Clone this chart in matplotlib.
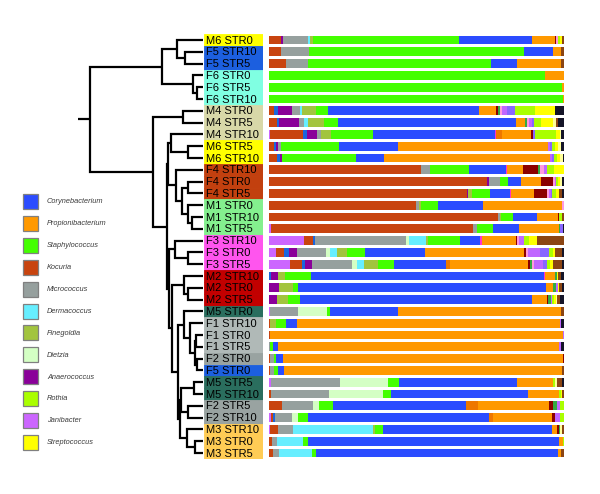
import matplotlib
matplotlib.use("Agg")
import matplotlib.pyplot as plt
from matplotlib.patches import Rectangle
import numpy as np

plt.rcParams['font.family'] = ['Liberation Sans', 'DejaVu Sans']

# ---------------- data ----------------
samples = ["M6 STR0", "F5 STR10", "F5 STR5", "F6 STR0", "F6 STR5", "F6 STR10",
           "M4 STR0", "M4 STR5", "M4 STR10", "M6 STR5", "M6 STR10",
           "F4 STR10", "F4 STR0", "F4 STR5", "M1 STR0", "M1 STR10", "M1 STR5",
           "F3 STR10", "F3 STR0", "F3 STR5", "M2 STR10", "M2 STR0", "M2 STR5",
           "M5 STR0", "F1 STR10", "F1 STR0", "F1 STR5", "F2 STR0", "F5 STR0",
           "M5 STR5", "M5 STR10", "F2 STR5", "F2 STR10",
           "M3 STR10", "M3 STR0", "M3 STR5"]

subject_colors = {"M6": "#ffff00", "F5": "#1c5fdf", "F6": "#80ffe2", "M4": "#d8d8a8",
                  "F4": "#c2400f", "M1": "#84f08e", "F3": "#ff55ee", "M2": "#c20000",
                  "M5": "#2a6e5e", "F1": "#b0b9b7", "F2": "#99a3a1", "M3": "#ffcc55"}

# relative abundances (%) per genus, one value per sample (in row order)
janibacter = [0,0,0,0,0,0,0,0,0.3,0,0,0,0,0,0,0,0.7,12.0,2.4,7.1,0,0,0,0.3,0,0,0,0,0,0.7,0,0,0.7,0.3,0,0]
kocuria = [4.1,4.1,5.8,0,0,0,1.8,2.6,11.3,1.8,2.8,51.5,74.0,67.0,49.8,77.5,68.4,3.0,2.8,4.0,0,0,0,0,0.3,0.3,0,0.3,0.3,0,0.7,4.3,0.6,2.8,0.9,1.2]
other_blue = [0,0,0,0,0,0,1.4,0.9,1.1,0.6,0.9,0,0,0,0,0,0,0.5,1.7,1.1,0.7,0,0,0,0,0,0,0,0,0,0,0,0.8,0,0,0]
anaerococcus = [0.6,0,0,0,0,0,4.5,6.8,3.6,0.8,0.6,0,0.6,0.6,0,0,0,0,2.7,2.3,2.3,3.5,2.6,0,0,0,0,0,0,0,0,0,0,0,0,0]
micrococcus = [8.7,9.3,7.3,0,0,0,2.8,1.7,1.4,0.8,0,3.1,3.7,0,1.1,0.8,1.4,30.8,9.9,13.6,0,0,0,9.6,0,0,0.3,1.4,1.4,23.4,19.7,10.7,5.6,5.1,1.7,2.1]
dietzia = [0,0,0,0,0,0,0,0,0,0,0,0,0,0,0,0,0,1.0,1.1,1.7,0,0,0,9.7,0,0,0,0,0,16.4,18.4,2.0,2.0,0,0,0]
dermacoccus = [0.6,0,0,0,0,0,0.6,1.4,0,0,0,0,0,0,0,0,0,6.0,2.6,2.3,0,0,0,0,0,0,0,0,0,0,0,0,0,27.1,9.0,11.4]
finegoldia = [0.9,0,0,0,0,0,4.7,5.1,3.2,0,0,0,0,1.1,0.5,0.3,0,0.6,3.3,4.9,2.5,4.7,3.7,0,2.0,0,0,0,0,0,0,0,0,0.6,0,0]
staphylococcus = [49.6,73.2,62.1,93.6,99.2,99.8,4.1,4.9,14.4,19.8,25.2,13.2,2.8,6.2,5.8,4.0,5.4,11.0,6.0,5.3,8.8,1.5,4.2,1.1,3.4,0,1.0,0.7,1.5,3.6,2.5,4.7,3.6,2.8,1.7,1.1]
corynebacterium = [25.0,9.6,8.7,0,0,0,51.3,60.3,41.2,19.9,9.6,12.4,4.3,6.8,15.3,8.1,8.8,6.6,20.6,17.8,78.9,84.2,78.5,23.0,3.7,0,1.6,2.3,1.9,40.2,46.5,45.2,61.2,57.1,85.1,81.9]
other_pink = [0,0,0,0,0,0,0,0,0.4,0,0,0.6,0,0.4,0,0,0,0.6,0,0,0.3,0,0.3,0,0,0,0,0,0,0,0,0,0,0,0,0]
other_orange = [0,0,0,0,0,0,0,0,1.9,0,0,0,0,0,0,0,0,0,0,1.4,0,0,0,0,0,0,0,0,0,0,0,4.0,1.5,0,0,0]
propionibacterium = [7.5,2.7,15.1,6.4,0.8,0.2,5.6,3.1,9.8,51.0,55.9,5.2,6.9,7.7,26.7,7.1,13.6,11.6,33.7,26.3,3.4,2.5,4.9,55.3,89.2,99.5,95.5,94.9,94.1,12.1,10.4,24.1,20.1,1.7,1.4,1.2]
other_darkred = [0.6,0,0,0,0,0,0.6,0,0.7,0,0,5.3,3.9,4.5,0,0.5,0,0.5,0.6,0.6,0,0,0.4,0,0,0,0,0.4,0,0,0,1.4,0.8,0.8,0,0]
other_green = [0,0,0,0,0,0,0.8,0.8,0,0,0,0.6,0,0,0,0,0.5,0,0,0.6,0.6,0.9,0.9,0,0,0,0,0,0,0,0,1.3,0,0.5,0,0]
other_rose = [0.6,0,0,0,0,0,0.6,0.7,0,0,0,1.4,0.6,0.6,0.8,0,0,0.6,0.6,0.9,0,0,0,0,0,0,0,0,0,0,0,0,0,0,0,0]
other_purple = [0,0,0,0,0,0,1.7,0.8,0,0.6,0.8,0.9,0.6,0.6,0,0,0,1.6,4.0,3.1,0,0.5,0.6,0,0.5,0.2,0.6,0,0,0,0,0.9,1.7,0,0,0]
other_violet = [0,0,0,0,0,0,2.8,0.8,0.8,0.6,0.7,0,0,0.6,0,0,0.7,0,3.2,1.1,0,0,0,0,0,0,0,0,0,0,0,0,0,0,0,0]
rothia = [0.8,0,0,0,0,0,6.8,2.3,7.1,1.1,1.1,2.3,0.6,1.1,0,0.9,0,1.9,1.4,1.2,0,0,0.5,0,0,0,0,0,0,0.8,0.7,1.4,1.4,0,0.2,0]
streptococcus = [0.5,0,0,0,0,0,6.7,4.1,1.3,1.1,1.1,3.5,0.8,1.1,0,0,0,2.5,0.6,1.1,0.6,0.6,0.6,0,0,0,0,0,0,0,0.4,0,0,0,0,0]
other_paleyellow = [0,0,0,0,0,0,0,1.1,0.5,0.8,0.8,0,0.5,0,0,0,0,0,0,0,0,0,0.5,0,0,0,0,0,0,0.6,0,0,0,0.6,0,0]
other_brown = [0.7,1.1,1.0,0,0,0,0,0.8,0,0,0,0,0,1.1,0,0.8,0,9.2,2.3,2.8,0.8,0.9,1.1,1.0,0,0,0,0,0.8,1.5,0.7,0,0,0.6,0,1.0]
other_black = [0,0,0,0,0,0,3.1,1.9,0.9,1.1,0.4,0,0.7,0.6,0,0,0.5,0,0.8,0.8,1.1,0.7,1.2,0,0.9,0,1.0,0,0,0.8,0,0,0,0,0,0]

series = [
    (janibacter, "#cc66ff"), (kocuria, "#c8440f"), (other_blue, "#1a66dd"),
    (anaerococcus, "#8a0099"), (micrococcus, "#96a09e"), (dietzia, "#d4ffc4"),
    (dermacoccus, "#66eeff"), (finegoldia, "#a2c43e"), (staphylococcus, "#44ff00"),
    (corynebacterium, "#2b4cff"), (other_pink, "#ff33cc"), (other_orange, "#ee7700"),
    (propionibacterium, "#ff9900"), (other_darkred, "#8b0000"), (other_green, "#33aa44"),
    (other_rose, "#ff99dd"), (other_purple, "#c066ff"), (other_violet, "#8866ff"),
    (rothia, "#aaff00"), (streptococcus, "#ffff00"), (other_paleyellow, "#ffff99"),
    (other_brown, "#8b4513"), (other_black, "#141428"),
]

legend_names = ["Corynebacterium", "Propionibacterium", "Staphylococcus", "Kocuria",
                "Micrococcus", "Dermacoccus", "Finegoldia", "Dietzia", "Anaerococcus",
                "Rothia", "Janibacter", "Streptococcus"]
legend_colors = ["#2b4cff", "#ff9900", "#44ff00", "#c8440f", "#96a09e", "#66eeff",
                 "#a2c43e", "#d4ffc4", "#8a0099", "#aaff00", "#cc66ff", "#ffff00"]

# dendrogram: (height, left, right); leaves are row indices
tight = (0.08, (0.075, 25, 26), (0.063, 27, 28))
tree = (1.13,
        (0.407, (0.257, 0, (0.18, 1, 2)), (0.097, 3, (0.06, 4, 5))),
        (0.497,
         (0.197, 6, 7),
         (0.363,
          (0.347,
           (0.32, 8, (0.153, 9, 10)),
           (0.273, 11, (0.213, (0.153, 12, 13), (0.147, 14, (0.113, 15, 16))))),
          (0.34,
           (0.28, 17, (0.153, 18, 19)),
           (0.313,
            (0.187, 20, (0.147, 21, 22)),
            (0.25,
             (0.187, 23, (0.13, 24, tight)),
             (0.23,
              (0.22, (0.087, 29, 30), (0.147, 31, 32)),
              (0.163, 33, (0.08, 34, 35)))))))))

# ---------------- layout ----------------
W, H = 600, 494
fig = plt.figure(figsize=(W / 100, H / 100), dpi=100)
top_px, bot_px = 34.1, 458.9
bottom = 1 - bot_px / H
height = (bot_px - top_px) / H
n = len(samples)
rows = np.arange(n)

# legend overlay
ax_leg = fig.add_axes([0, 0, 1, 1])
ax_leg.set_xlim(0, W)
ax_leg.set_ylim(H, 0)
ax_leg.axis("off")
for i, (name, col) in enumerate(zip(legend_names, legend_colors)):
    y0 = 194 + i * 21.9
    ax_leg.add_patch(Rectangle((23, y0), 15, 15, facecolor=col, edgecolor="#808080", lw=0.9))
    ax_leg.text(47, y0 + 7.8, name, fontsize=5.3, style="italic", color="#3a3a3a",
                va="center", ha="left")

# dendrogram
ax_d = fig.add_axes([78 / W, bottom, 125 / W, height])
ax_d.set_xlim(1.25, 0)
ax_d.set_ylim(n - 0.5, -0.5)
ax_d.axis("off")


def draw(node):
    if isinstance(node, int):
        return float(node), 0.0
    h, left, right = node
    yl, hl = draw(left)
    yr, hr = draw(right)
    ax_d.plot([hl, h, h, hr], [yl, yl, yr, yr], color="black", lw=1.6,
              solid_joinstyle="miter", solid_capstyle="butt")
    return (yl + yr) / 2, h


ry, rh = draw(tree)
ax_d.plot([rh, 1.25], [ry, ry], color="black", lw=1.6, solid_capstyle="butt")

# sample label boxes
ax_l = fig.add_axes([204 / W, bottom, 59 / W, height])
ax_l.set_xlim(0, 1)
ax_l.set_ylim(n - 0.5, -0.5)
ax_l.axis("off")
box_cols = [subject_colors[s.split()[0]] for s in samples]
ax_l.barh(rows, 1, left=0, height=1.0, color=box_cols, edgecolor=box_cols, lw=0.6)
for i, s in enumerate(samples):
    ax_l.text(0.035, i + 0.05, s, fontsize=8.0, va="center", ha="left", color="black")

# stacked bars
ax_s = fig.add_axes([269 / W, bottom, 295 / W, height])
ax_s.set_ylim(n - 0.5, -0.5)
ax_s.axis("off")
vals = np.array([v for v, _ in series], dtype=float)
vals = vals / vals.sum(axis=0) * 100.0
cum = np.zeros(n)
for (v, col), nv in zip(series, vals):
    ax_s.barh(rows, nv, left=cum, height=0.76, color=col, lw=0)
    cum += nv
ax_s.set_xlim(0, 100)

fig.savefig("out.png", dpi=100)
